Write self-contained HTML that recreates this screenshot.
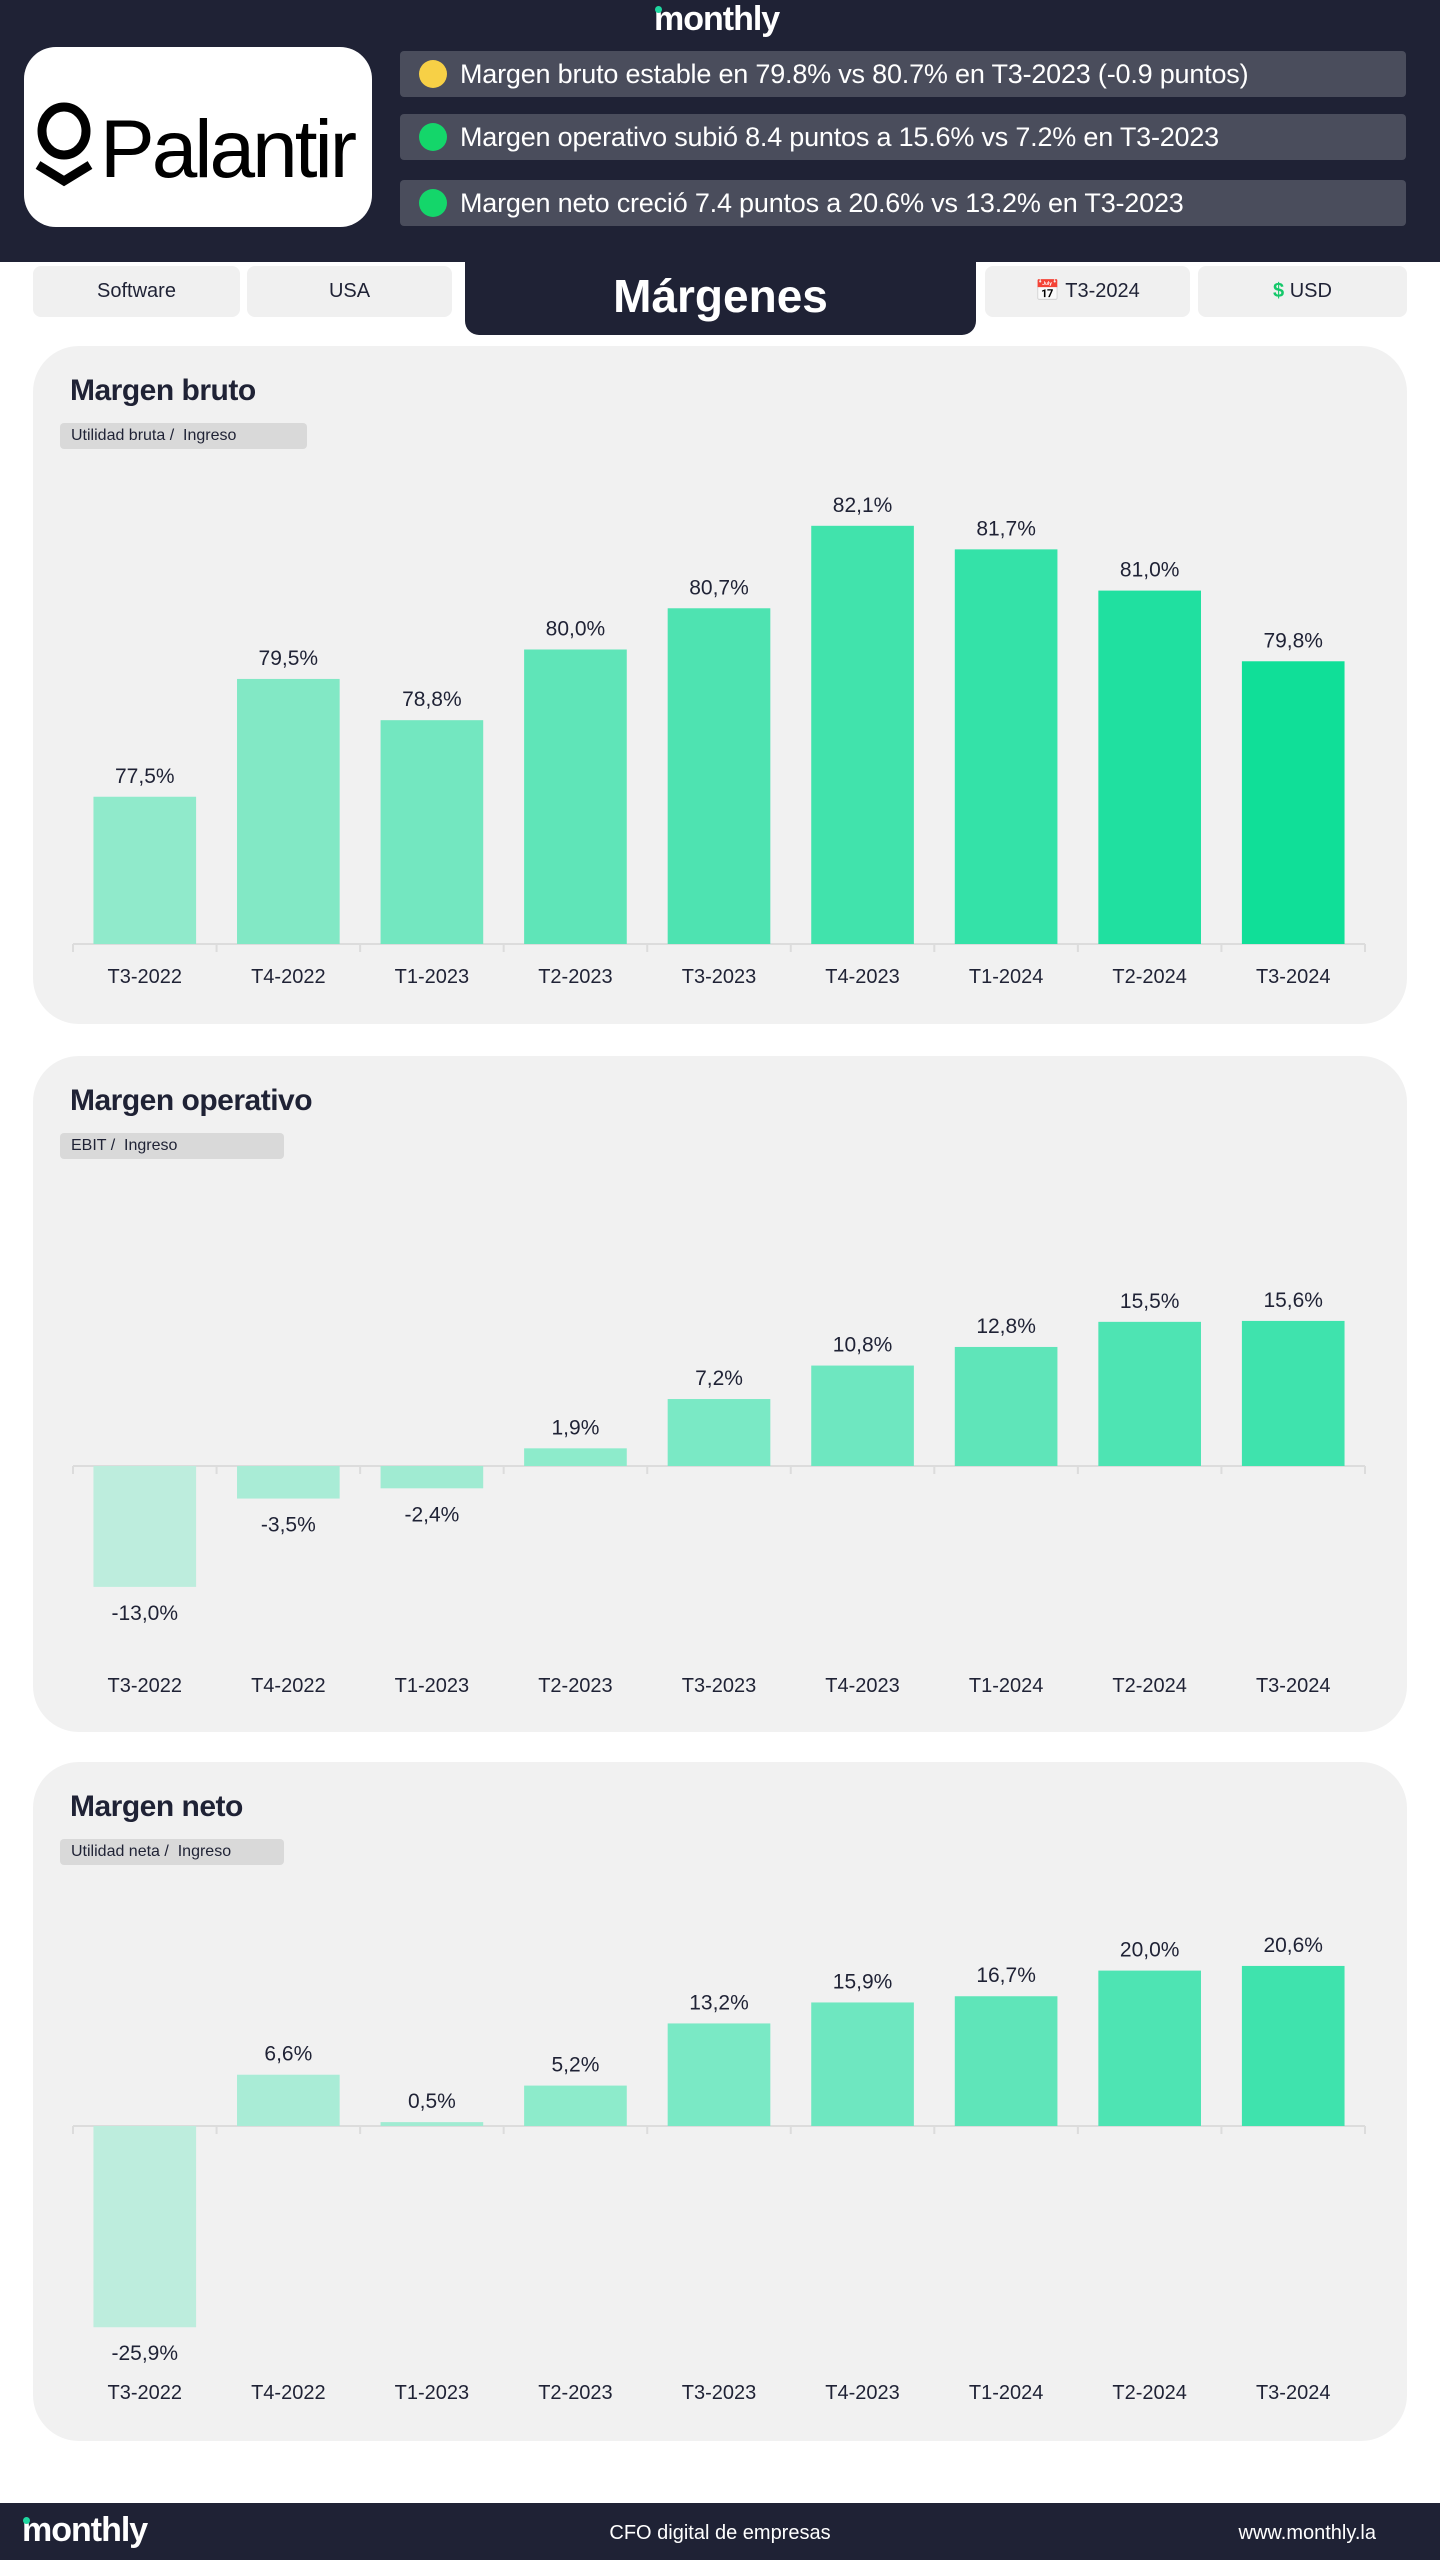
<!DOCTYPE html>
<html><head><meta charset="utf-8">
<style>
*{margin:0;padding:0;box-sizing:border-box}
body{width:1440px;height:2560px;background:#fff;font-family:"Liberation Sans",sans-serif;position:relative;overflow:hidden;color:#1f2235}
.abs{position:absolute}
.hdr{left:0;top:0;width:1440px;height:262px;background:#1f2235}
.logo-m{color:#fff;font-weight:bold;font-size:34px;letter-spacing:-1px}
.logo-m .dot{position:absolute;width:7px;height:7px;border-radius:50%;background:#1ed7a0;left:1px;top:6px}
.bullet{left:400px;width:1006px;height:46px;background:#4a4d5c;border-radius:4px;color:#fff;font-size:27px;line-height:46px;padding-left:60px;letter-spacing:-0.2px}
.bullet .d{position:absolute;left:19px;top:9px;width:28px;height:28px;border-radius:50%}
.tab{top:266px;height:51px;background:#f0f0f0;border-radius:8px;font-size:20px;line-height:51px;text-align:center;color:#1f2235}
.panel{left:33px;width:1374px;background:#f1f1f1;border-radius:46px}
.ptitle{font-size:30px;font-weight:bold;color:#1f2235;letter-spacing:-0.5px}
.pill{height:26px;background:#d9d9d9;border-radius:4px;font-size:16px;line-height:26px;padding-left:11px;color:#1f2235}
svg text{font-family:"Liberation Sans",sans-serif}
</style></head><body>
<div class="abs hdr"></div>
<div class="abs logo-m" style="left:654px;top:0px;"><span class="dot"></span>monthly</div>
<div class="abs" style="left:24px;top:47px;width:348px;height:180px;background:#fff;border-radius:32px;">
  <svg width="348" height="180">
    <ellipse cx="40" cy="84" rx="22" ry="24" fill="none" stroke="#000" stroke-width="9"/>
    <polyline points="14,118 40,134 66,118" fill="none" stroke="#000" stroke-width="9"/>
    <text x="76" y="130" font-size="82" fill="#000" letter-spacing="-3">Palantir</text>
  </svg>
</div>
<div class="abs bullet" style="top:51px"><span class="d" style="background:#f7d046"></span>Margen bruto estable en 79.8% vs 80.7% en T3-2023 (-0.9 puntos)</div>
<div class="abs bullet" style="top:114px"><span class="d" style="background:#14d66a"></span>Margen operativo subió 8.4 puntos a 15.6% vs 7.2% en T3-2023</div>
<div class="abs bullet" style="top:180px"><span class="d" style="background:#14d66a"></span>Margen neto creció 7.4 puntos a 20.6% vs 13.2% en T3-2023</div>

<div class="abs tab" style="left:33px;width:207px">Software</div>
<div class="abs tab" style="left:247px;width:205px">USA</div>
<div class="abs" style="left:465px;top:250px;width:511px;height:85px;background:#1f2235;border-radius:0 0 14px 14px;color:#fff;font-size:46px;font-weight:bold;text-align:center;line-height:80px;padding-top:6px">Márgenes</div>
<div class="abs tab" style="left:985px;width:205px">📅 T3-2024</div>
<div class="abs tab" style="left:1198px;width:209px"><b style="color:#14c86a">$</b> USD</div>

<div class="abs panel" style="top:346px;height:678px">
  <div class="abs ptitle" style="left:37px;top:28px">Margen bruto</div>
  <div class="abs pill" style="left:27px;top:77px;width:247px">Utilidad bruta /&nbsp; Ingreso</div>
  <svg id="c1" class="abs" style="left:0;top:0" width="1374" height="678"></svg>
</div>
<div class="abs panel" style="top:1056px;height:676px">
  <div class="abs ptitle" style="left:37px;top:28px">Margen operativo</div>
  <div class="abs pill" style="left:27px;top:77px;width:224px">EBIT /&nbsp; Ingreso</div>
  <svg id="c2" class="abs" style="left:0;top:0" width="1374" height="676"></svg>
</div>
<div class="abs panel" style="top:1762px;height:679px">
  <div class="abs ptitle" style="left:37px;top:28px">Margen neto</div>
  <div class="abs pill" style="left:27px;top:77px;width:224px">Utilidad neta /&nbsp; Ingreso</div>
  <svg id="c3" class="abs" style="left:0;top:0" width="1374" height="679"></svg>
</div>

<div class="abs" style="left:0;top:2503px;width:1440px;height:57px;background:#1f2235"></div>
<div class="abs logo-m" style="left:22px;top:2511px"><span class="dot"></span>monthly</div>
<div class="abs" style="left:520px;width:400px;top:2522px;text-align:center;color:#fff;font-size:20px">CFO digital de empresas</div>
<div class="abs" style="right:64px;top:2522px;color:#fff;font-size:20px">www.monthly.la</div>

<script>
const categories = ["T3-2022","T4-2022","T1-2023","T2-2023","T3-2023","T4-2023","T1-2024","T2-2024","T3-2024"];
const grossValues = [77.5,79.5,78.8,80.0,80.7,82.1,81.7,81.0,79.8];
const operatingValues = [-13.0,-3.5,-2.4,1.9,7.2,10.8,12.8,15.5,15.6];
const netValues = [-25.9,6.6,0.5,5.2,13.2,15.9,16.7,20.0,20.6];
const grossColors = ["#90eacb","#82e8c5","#73e7c0","#5fe5b8","#4ee3b1","#41e3ac","#34e2a8","#20e0a0","#10df98"];
const lowColors = ["#bdeddd","#a9ecd6","#a0ebd2","#8debcb","#7ae9c5","#6ee7c0","#5fe5b9","#4ee4b3","#3fe3ad"];

const NS = "http://www.w3.org/2000/svg";
function mk(svg, tag, attrs){ const e=document.createElementNS(NS,tag); for(const k in attrs) e.setAttribute(k,attrs[k]); svg.appendChild(e); return e; }
function fmt(v){ return v.toFixed(1).replace('.',',')+'%'; }

function drawChart(id, values, colors, base, baselineY, pxPerUnit, labelY, prefix){
  const svg=document.getElementById(id);
  const x0=40, x1=1332, band=(x1-x0)/categories.length, bw=band*0.715;
  const xScale = i => x0 + band*i + (band-bw)/2;
  const yScale = v => baselineY - (v-base)*pxPerUnit;
  const axis = mk(svg,'line',{x1:x0,x2:x1,y1:baselineY,y2:baselineY,stroke:'#dcdcdc','stroke-width':2});
  
  
  for(let i=0;i<=categories.length;i++){
    const t=mk(svg,'line',{x1:x0+band*i,x2:x0+band*i,y1:baselineY,y2:baselineY+8,stroke:'#dcdcdc','stroke-width':2});
    
    
  }
  values.forEach((v,i)=>{
    const yv=yScale(v), top=Math.min(yv,baselineY), h=Math.abs(yv-baselineY);
    const r=mk(svg,'rect',{x:xScale(i),y:top,width:bw,height:Math.max(h,2),fill:colors[i]});
    
    
    const ly = v>=base ? top-14 : top+h+33;
    const t=mk(svg,'text',{x:xScale(i)+bw/2,y:ly,'text-anchor':'middle','font-size':21,fill:'#1f2235'});
    t.textContent=fmt(v);
    
    
    const c=mk(svg,'text',{x:xScale(i)+bw/2,y:labelY,'text-anchor':'middle','font-size':20,fill:'#1f2235'});
    c.textContent=categories[i];
    
    
  });
}
drawChart('c1', grossValues, grossColors, 75, 598, 58.9, 637, 'gross');
drawChart('c2', operatingValues, lowColors, 0, 410, 9.3, 636, 'operating');
drawChart('c3', netValues, lowColors, 0, 364, 7.77, 637, 'net');
</script>
</body></html>
